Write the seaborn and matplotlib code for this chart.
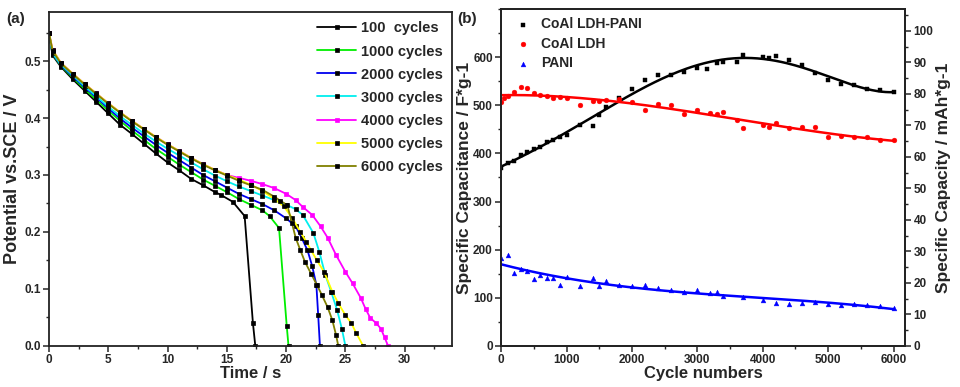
import numpy as np
import pandas as pd
import matplotlib
matplotlib.use("Agg")
import matplotlib.pyplot as plt
from matplotlib.ticker import AutoMinorLocator, MultipleLocator
import seaborn as sns

# ---------------- Panel (a) data: discharge curves ----------------
t_100 = [0, 0.3, 1, 2, 3, 4, 5, 6, 7, 8, 9, 10, 11, 12, 13, 14, 14.5, 15.5, 16.5, 17.2, 17.4]
v_100 = [0.55, 0.51, 0.49, 0.468, 0.448, 0.428, 0.408, 0.388, 0.372, 0.355, 0.338, 0.322,
         0.308, 0.293, 0.282, 0.27, 0.265, 0.253, 0.228, 0.04, 0.0]

t_1000 = [0, 0.3, 1, 2, 3, 4, 5, 6, 7, 8, 9, 10, 11, 12, 13, 14, 15, 16, 17, 18, 18.6, 19.4, 20.05, 20.2]
v_1000 = [0.55, 0.512, 0.492, 0.471, 0.451, 0.432, 0.413, 0.395, 0.378, 0.362, 0.346, 0.332,
          0.318, 0.305, 0.292, 0.281, 0.27, 0.258, 0.248, 0.238, 0.228, 0.207, 0.035, 0.0]

t_2000 = [0, 0.3, 1, 2, 3, 4, 5, 6, 7, 8, 9, 10, 11, 12, 13, 14, 15, 16, 17, 18, 19, 20,
          20.8, 21.3, 21.8, 22.2, 22.55, 22.7, 22.85]
v_2000 = [0.55, 0.513, 0.493, 0.473, 0.454, 0.436, 0.417, 0.399, 0.383, 0.368, 0.353, 0.339,
          0.326, 0.313, 0.30, 0.289, 0.278, 0.267, 0.258, 0.249, 0.238, 0.224,
          0.21, 0.19, 0.168, 0.14, 0.107, 0.055, 0.0]

t_3000 = [0, 0.3, 1, 2, 3, 4, 5, 6, 7, 8, 9, 10, 11, 12, 13, 14, 15, 16, 17, 18, 19, 20,
          20.8, 21.4, 22.3, 22.8, 23.3, 23.8, 24.3, 24.7, 25.0]
v_3000 = [0.55, 0.514, 0.494, 0.475, 0.456, 0.438, 0.42, 0.403, 0.388, 0.373, 0.359, 0.346,
          0.334, 0.322, 0.31, 0.299, 0.289, 0.28, 0.272, 0.264, 0.256, 0.248,
          0.24, 0.23, 0.198, 0.165, 0.125, 0.095, 0.063, 0.03, 0.0]

t_4000 = [0, 0.3, 1, 2, 3, 4, 5, 6, 7, 8, 9, 10, 11, 12, 13, 14, 15, 16, 17, 18, 19, 20,
          20.8, 21.4, 22.2, 22.9, 23.5, 24.2, 25.0, 25.6, 26.3, 26.7, 27.1, 27.6, 28.0, 28.3, 28.6]
v_4000 = [0.55, 0.52, 0.497, 0.478, 0.46, 0.443, 0.426, 0.41, 0.395, 0.381, 0.367, 0.354,
          0.342, 0.33, 0.319, 0.309, 0.30, 0.295, 0.29, 0.284, 0.277, 0.267,
          0.256, 0.244, 0.23, 0.21, 0.19, 0.16, 0.13, 0.11, 0.084, 0.065, 0.049, 0.04, 0.03, 0.015, 0.0]

t_5000 = [0, 0.3, 1, 2, 3, 4, 5, 6, 7, 8, 9, 10, 11, 12, 13, 14, 15, 16, 17, 18, 19, 19.8,
          20.5, 21.2, 21.7, 22.1, 22.6, 23.2, 23.9, 24.4, 25.0, 25.5, 25.9, 26.5]
v_5000 = [0.55, 0.52, 0.497, 0.478, 0.46, 0.443, 0.426, 0.41, 0.395, 0.381, 0.367, 0.354,
          0.342, 0.33, 0.319, 0.309, 0.30, 0.292, 0.283, 0.272, 0.258, 0.245,
          0.225, 0.2, 0.183, 0.168, 0.15, 0.13, 0.095, 0.075, 0.054, 0.04, 0.023, 0.0]

t_6000 = [0, 0.3, 1, 2, 3, 4, 5, 6, 7, 8, 9, 10, 11, 12, 13, 14, 15, 16, 17, 18, 19, 19.5,
          20.1, 20.5, 20.8, 21.2, 21.6, 22.1, 22.6, 23.0, 23.5, 23.9, 24.2, 24.4]
v_6000 = [0.55, 0.518, 0.496, 0.477, 0.459, 0.442, 0.425, 0.409, 0.394, 0.38, 0.366, 0.353,
          0.341, 0.329, 0.318, 0.308, 0.299, 0.29, 0.282, 0.274, 0.262, 0.255,
          0.247, 0.215, 0.19, 0.168, 0.147, 0.127, 0.107, 0.09, 0.068, 0.045, 0.02, 0.0]

cycle_labels = ["100  cycles", "1000 cycles", "2000 cycles", "3000 cycles",
                "4000 cycles", "5000 cycles", "6000 cycles"]

# ---------------- Panel (b) data: cycling stability ----------------
pani_ldh_cycles = [0, 100, 200, 300, 400, 500, 600, 700, 800, 900, 1000, 1200, 1400, 1500, 1600,
                   1800, 2000, 2200, 2400, 2600, 2800, 3000, 3150, 3300, 3400, 3600, 3700, 4000,
                   4100, 4200, 4400, 4600, 4800, 5000, 5200, 5400, 5600, 5800, 6000]
pani_ldh_cap = [369, 379, 385, 396, 403, 410, 414, 424, 427, 434, 438, 459, 457, 479, 496,
                514, 533, 552, 562, 563, 568, 577, 575, 587, 590, 590, 604, 600,
                598, 603, 594, 583, 566, 552, 545, 541, 533, 532, 527]

ldh_cycles = [0, 50, 100, 200, 300, 400, 500, 600, 700, 800, 900, 1000, 1200, 1400, 1500, 1600,
              1800, 2000, 2200, 2400, 2600, 2800, 3000, 3200, 3300, 3400, 3600, 3700, 4000,
              4100, 4200, 4400, 4600, 4800, 5000, 5200, 5400, 5600, 5800, 6000]
ldh_cap = [506, 514, 520, 527, 537, 535, 525, 521, 520, 514, 518, 514, 500, 508, 508, 510,
           512, 506, 491, 503, 500, 481, 490, 483, 481, 486, 469, 452, 458,
           455, 463, 452, 455, 455, 434, 436, 435, 433, 427, 427]

pani_cycles = [0, 100, 200, 300, 400, 500, 600, 700, 800, 900, 1000, 1200, 1400, 1500, 1600,
               1800, 2000, 2200, 2400, 2600, 2800, 3000, 3200, 3300, 3400, 3700, 4000, 4200,
               4400, 4600, 4800, 5000, 5200, 5400, 5600, 5800, 6000]
pani_cap = [182, 189, 151, 160, 156, 139, 147, 142, 142, 127, 144, 125, 142, 125, 135,
            127, 124, 127, 120, 116, 113, 116, 111, 113, 104, 102, 95, 89,
            88, 90, 92, 88, 86, 88, 86, 82, 78]

series_names = ["CoAl LDH-PANI", "CoAl LDH", "PANI"]

# ---------------- style ----------------
sns.set_theme(style="ticks")
plt.rcParams["font.family"] = ["Liberation Sans", "DejaVu Sans"]
plt.rcParams["font.weight"] = "bold"
plt.rcParams["axes.labelweight"] = "bold"
plt.rcParams["axes.linewidth"] = 1.3
plt.rcParams["xtick.major.width"] = 1.1
plt.rcParams["ytick.major.width"] = 1.1
plt.rcParams["xtick.minor.width"] = 1.0
plt.rcParams["ytick.minor.width"] = 1.0
plt.rcParams["xtick.major.size"] = 4
plt.rcParams["ytick.major.size"] = 4
plt.rcParams["xtick.minor.size"] = 2.5
plt.rcParams["ytick.minor.size"] = 2.5
plt.rcParams["xtick.direction"] = "out"
plt.rcParams["ytick.direction"] = "out"

fig = plt.figure(figsize=(9.6, 3.87), dpi=100)
axA = fig.add_axes([0.051, 0.106, 0.420, 0.863])
axB = fig.add_axes([0.522, 0.106, 0.421, 0.871])

# ---------------- Panel (a) ----------------
curves = [(t_100, v_100), (t_1000, v_1000), (t_2000, v_2000), (t_3000, v_3000),
          (t_4000, v_4000), (t_5000, v_5000), (t_6000, v_6000)]
colors_a = ["#000000", "#00ee00", "#0000ee", "#00eeee", "#ff00ff", "#ffff00", "#808000"]
mfc = ["#000000", "#000000", "#000000", "#000000", "#ff00ff", "#000000", "#000000"]
msz = [3.5, 3.5, 3.5, 3.5, 2.5, 3.5, 3.5]
for (tt, vv), c, lab, fc, ms in zip(curves, colors_a, cycle_labels, mfc, msz):
    df = pd.DataFrame({"t": tt, "v": vv})
    sns.lineplot(data=df, x="t", y="v", ax=axA, color=c, lw=1.3, marker="s",
                 markersize=ms, markerfacecolor=fc, markeredgecolor=fc,
                 markeredgewidth=0.5, estimator=None, sort=False, label=lab)

axA.set_xlim(0, 34)
axA.set_ylim(0, 0.586)
axA.xaxis.set_major_locator(MultipleLocator(5))
axA.xaxis.set_minor_locator(AutoMinorLocator(2))
axA.yaxis.set_major_locator(MultipleLocator(0.1))
axA.yaxis.set_minor_locator(AutoMinorLocator(2))
axA.set_xticks([0, 5, 10, 15, 20, 25, 30])
axA.set_xticklabels(["0", "5", "10", "15", "20", "25", "30"])
axA.set_yticks([0.0, 0.1, 0.2, 0.3, 0.4, 0.5])
axA.set_yticklabels(["0.0", "0.1", "0.2", "0.3", "0.4", "0.5"])
axA.tick_params(labelsize=8.5, which="both", top=False, right=False, pad=2)
axA.set_xlabel("Time / s", fontsize=12, fontweight="bold", labelpad=0)
axA.set_ylabel("Potential vs.SCE / V", fontsize=13, fontweight="bold", labelpad=2)
for s in axA.spines.values():
    s.set_visible(True)
    s.set_color("#222222")
legA = axA.legend(loc="upper right", frameon=False, fontsize=10.5, handlelength=2.7,
                  labelspacing=0.62, handletextpad=0.3, borderaxespad=0.25)
for txt in legA.get_texts():
    txt.set_fontweight("bold")
fig.text(0.007, 0.94, "(a)", fontsize=11, fontweight="bold")

# ---------------- Panel (b) ----------------
data_b = [(pani_ldh_cycles, pani_ldh_cap, "#000000", "s", 5),
          (ldh_cycles, ldh_cap, "#ff0000", "o", 3),
          (pani_cycles, pani_cap, "#0000ff", "^", 3)]
for (cx, cy, c, mk, deg), name in zip(data_b, series_names):
    df = pd.DataFrame({"cycle": cx, "cap": cy})
    sns.scatterplot(data=df, x="cycle", y="cap", ax=axB, color=c, marker=mk, s=12,
                    edgecolor=c, linewidth=0.3, label=name, zorder=3)
    fit = np.polynomial.Polynomial.fit(cx, cy, deg)
    xf = np.linspace(min(cx), max(cx), 200)
    sns.lineplot(x=xf, y=fit(xf), ax=axB, color=c, lw=1.8, legend=False, zorder=2)

axB.set_xlim(0, 6180)
axB.set_ylim(0, 700)
axB.set_xticks([0, 1000, 2000, 3000, 4000, 5000, 6000])
axB.set_xticklabels(["0", "1000", "2000", "3000", "4000", "5000", "6000"])
axB.xaxis.set_minor_locator(AutoMinorLocator(2))
axB.set_yticks([0, 100, 200, 300, 400, 500, 600])
axB.set_yticklabels(["0", "100", "200", "300", "400", "500", "600"])
axB.yaxis.set_minor_locator(AutoMinorLocator(2))
axB.tick_params(labelsize=8.5, which="both", top=False, right=False, pad=2)
axB.set_xlabel("Cycle numbers", fontsize=12, fontweight="bold", labelpad=0)
axB.set_ylabel("Specific Capacitance / F*g-1", fontsize=12.5, fontweight="bold", labelpad=1)
for s in axB.spines.values():
    s.set_visible(True)
    s.set_color("#222222")

axR = axB.twinx()
axR.set_ylim(0, 700 * 0.55 / 3.6)
axR.set_yticks([0, 10, 20, 30, 40, 50, 60, 70, 80, 90, 100])
axR.set_yticklabels(["0", "10", "20", "30", "40", "50", "60", "70", "80", "90", "100"])
axR.yaxis.set_minor_locator(AutoMinorLocator(2))
axR.tick_params(labelsize=8.5, which="both", pad=2)
axR.set_ylabel("Specific Capacity / mAh*g-1", fontsize=12.5, fontweight="bold", labelpad=2)
for s in axR.spines.values():
    s.set_visible(True)
    s.set_color("#222222")

legB = axB.legend(loc="upper left", frameon=False, fontsize=10, handlelength=0.8,
                  labelspacing=0.4, handletextpad=0.9, borderaxespad=0.2,
                  bbox_to_anchor=(0.02, 1.0), markerscale=1.0)
for txt in legB.get_texts():
    txt.set_fontweight("bold")
fig.text(0.476, 0.94, "(b)", fontsize=11, fontweight="bold")

fig.savefig("out.png", dpi=100)
